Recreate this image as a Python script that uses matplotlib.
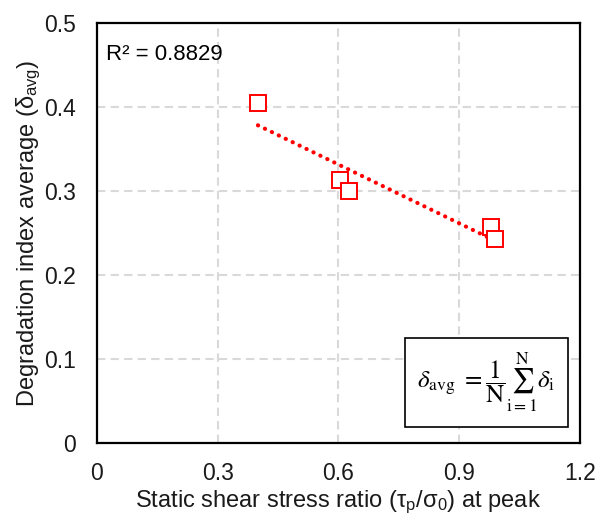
import numpy as np
import matplotlib.pyplot as plt

plt.rcParams['font.family'] = ['Liberation Sans', 'DejaVu Sans']
plt.rcParams['mathtext.fontset'] = 'stix'

# data
stress_ratio = [0.40, 0.605, 0.626, 0.979, 0.989]
delta_avg = [0.405, 0.313, 0.300, 0.257, 0.243]
r2_text = "R² = 0.8829"
x_ticks = [0, 0.3, 0.6, 0.9, 1.2]
y_ticks = [0, 0.1, 0.2, 0.3, 0.4, 0.5]

fig = plt.figure(figsize=(6.06, 5.19), dpi=100)
ax = fig.add_axes([0.160, 0.1464, 0.797, 0.8093])

ax.grid(True, color='#d9d9d9', linestyle=(0, (4, 2.5)), linewidth=1.5)
ax.set_axisbelow(True)

# linear trendline
k, b = np.polyfit(stress_ratio, delta_avg, 1)
xs = np.array([min(stress_ratio), max(stress_ratio)])
ax.plot(xs, k * xs + b, color='red', linestyle=(0, (0.05, 1.8)), linewidth=3.0,
        dash_capstyle='round', zorder=2)

ax.plot(stress_ratio, delta_avg, linestyle='none', marker='s', markersize=11,
        markerfacecolor='white', markeredgecolor='red', markeredgewidth=1.4, zorder=3)

ax.set_xlim(0, 1.2)
ax.set_ylim(0, 0.5)
ax.set_xticks(x_ticks)
ax.set_yticks(y_ticks)
ax.set_xticklabels(['0', '0.3', '0.6', '0.9', '1.2'])
ax.set_yticklabels(['0', '0.1', '0.2', '0.3', '0.4', '0.5'])
ax.tick_params(axis='y', length=0, labelsize=16.5, pad=15, colors='#1a1a1a')
ax.tick_params(axis='x', length=0, labelsize=16.5, pad=14, colors='#1a1a1a')
for s in ax.spines.values():
    s.set_linewidth(1.6)
    s.set_color('black')

ax.set_xlabel(r'Static shear stress ratio ($\mathregular{\tau_p/\sigma_0}$) at peak',
              fontsize=17, labelpad=2, color='#1a1a1a')
ax.set_ylabel(r'Degradation index average ($\mathregular{\delta_{avg}}$)',
              fontsize=17, labelpad=1, color='#1a1a1a')

ax.text(0.018, 0.924, r2_text, transform=ax.transAxes, fontsize=16,
        ha='left', va='center', color='black')

ax.text(0.806, 0.144,
        r'$\delta_{\mathrm{avg}}\ = \dfrac{1}{\mathrm{N}}\sum_{\mathrm{i=1}}^{\mathrm{N}}\delta_{\mathrm{i}}$',
        transform=ax.transAxes, fontsize=18, ha='center', va='center',
        bbox=dict(boxstyle='square,pad=0.5', facecolor='white', edgecolor='black', linewidth=1.2))

fig.savefig('out.png', dpi=100)
